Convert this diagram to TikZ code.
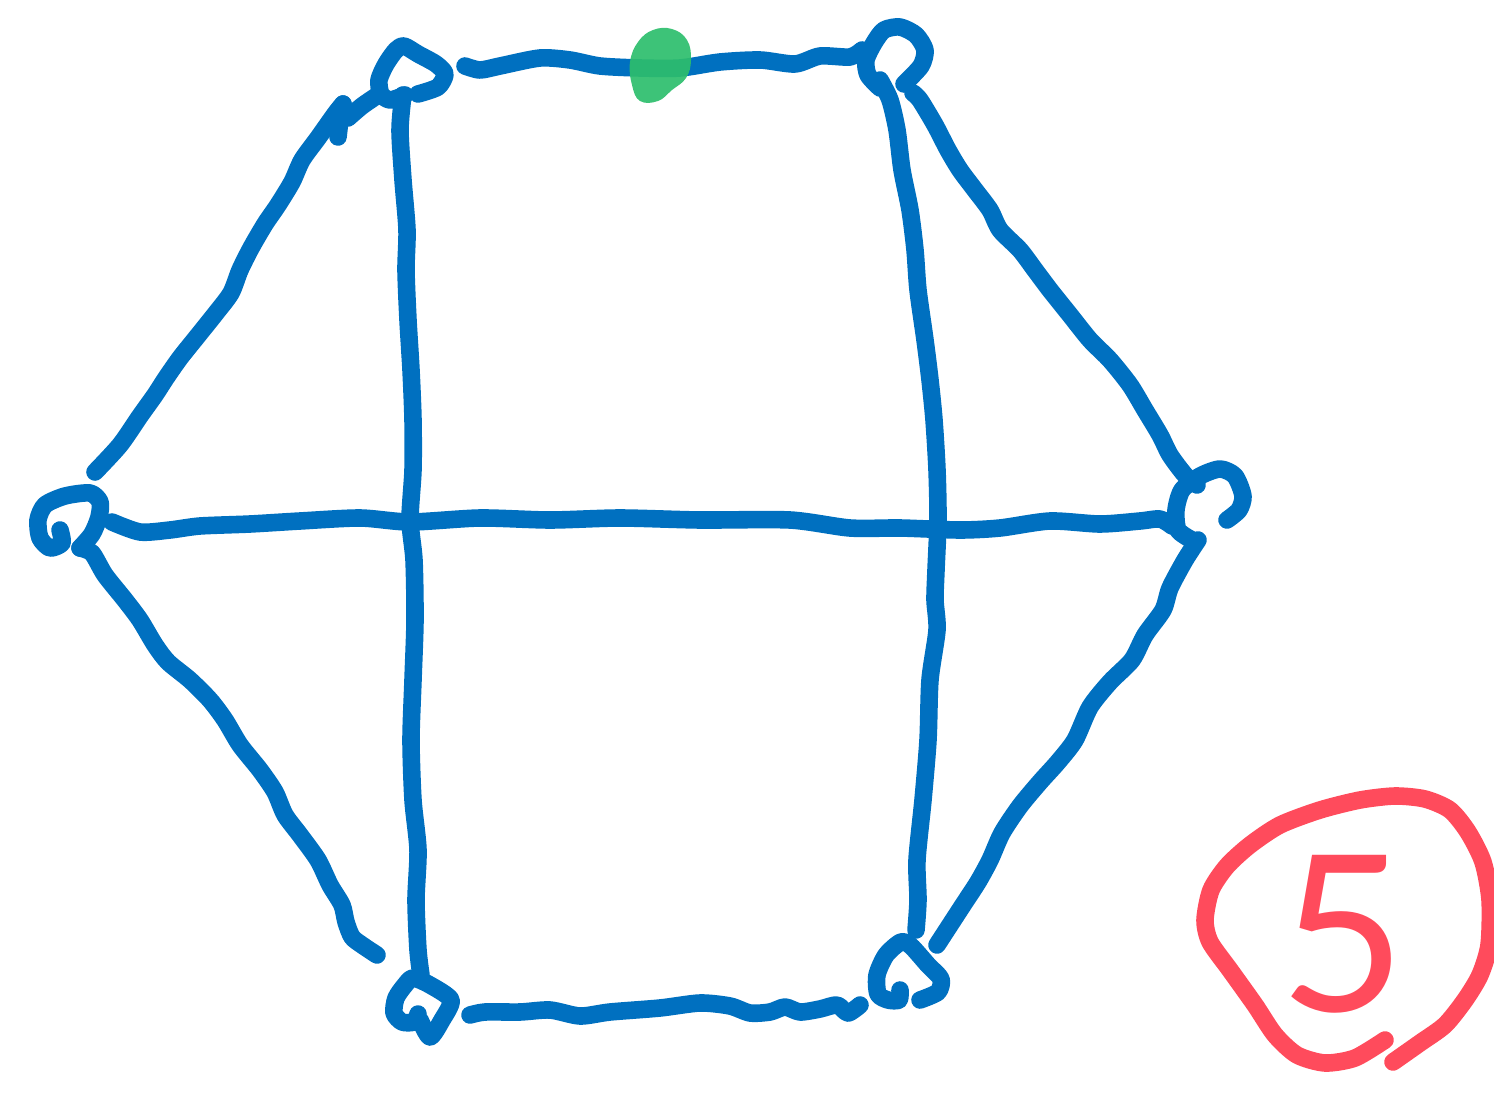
\documentclass[tikz,border=0pt]{standalone}
\usepackage{fontspec}
\setmainfont{Lato}
\definecolor{penblue}{HTML}{0070C0}
\definecolor{pengreen}{HTML}{2DBE6C}
\definecolor{penred}{HTML}{FF4B5C}
\tikzset{
  pen/.style={line width=5pt, line cap=round, line join=round, draw=penblue},
  redpen/.style={line width=5pt, line cap=round, line join=round, draw=penred},
  wob/.style={smooth, tension=0.45}
}
\begin{document}
\begin{tikzpicture}[x=0.01cm,y=-0.01cm]
\useasboundingbox (0,0) rectangle (1494,1094);
% vertex positions
\coordinate (A) at (412,72);
\coordinate (B) at (895,55);
\coordinate (C) at (70,520);
\coordinate (D) at (1210,500);
\coordinate (E) at (422,1005);
\coordinate (F) at (905,975);
% vertex loops
\draw[pen] plot[wob] coordinates {(405,95) (390,100) (381,94) (379,80) (386,64) (396,50) (404,46) (418,54) (436,64) (445,74) (438,87) (418,94)};
\draw[pen] plot[wob] coordinates {(880,88) (868,75) (866,60) (874,43) (884,30) (900,27) (916,35) (925,50) (921,66) (904,84)};
\draw[pen] plot[wob] coordinates {(60,530) (62,543) (50,548) (40,538) (38,520) (45,505) (65,496) (90,493) (100,502) (99,517) (92,534) (80,548)};
\draw[pen] plot[wob] coordinates {(1192,540) (1178,530) (1176,510) (1182,490) (1200,476) (1220,469) (1235,476) (1243,496) (1239,510) (1227,520)};
\draw[pen] plot[wob] coordinates {(418,1014) (414,1022) (402,1022) (394,1013) (396,998) (405,985) (413,978) (430,985) (451,1000) (442,1020) (430,1037) (420,1020)};
\draw[pen] plot[wob] coordinates {(900,990) (899,1000) (888,1000) (878,994) (877,975) (886,955) (901,942) (911,946) (928,965) (941,979) (938,992) (920,1000)};
% edges
\draw[pen] plot[wob] coordinates {(465,66) (480,70) (500,66) (540,58) (570,60) (600,66) (640,68) (680,68) (720,62) (760,60) (795,64) (820,56) (850,57) (862,50)};
\draw[pen] plot[wob] coordinates {(378,95) (362,106) (348,118)};
\draw[pen] (343,104) -- (340,120) -- (338,137);
\draw[pen] plot[wob] coordinates {(343,104) (335,114) (318,138) (302,160) (292,182) (278,205) (265,224) (251,248) (240,270) (231,293) (216,313) (196,338) (180,358) (166,378) (155,395) (140,416) (120,445) (95,472)};
\draw[pen] plot[wob] coordinates {(913,93) (920,100) (935,125) (948,150) (960,170) (975,190) (990,210) (1000,230) (1020,250) (1035,270) (1050,290) (1070,315) (1090,340) (1110,360) (1130,385) (1145,410) (1160,435) (1170,455) (1185,475) (1197,485)};
\draw[pen] plot[wob] coordinates {(403,95) (400,130) (403,180) (407,230) (406,270) (408,320) (411,370) (413,420) (413,470) (410,520) (414,560) (415,620) (413,680) (411,740) (413,800) (418,850) (416,900) (418,950) (421,975)};
\draw[pen] plot[wob] coordinates {(880,80) (890,100) (897,130) (902,170) (910,210) (915,250) (918,290) (925,340) (930,380) (934,420) (937,470) (938,520) (936,570) (935,600) (937,630) (930,680) (928,740) (923,800) (917,860) (918,900) (916,930)};
\draw[pen] plot[wob] coordinates {(112,522) (140,532) (170,530) (200,526) (250,524) (300,521) (360,518) (410,522) (480,518) (550,520) (620,518) (700,520) (790,520) (850,528) (900,528) (960,530) (1000,528) (1050,521) (1100,524) (1140,521) (1160,519) (1172,526)};
\draw[pen] plot[wob] coordinates {(80,548) (92,553) (105,575) (125,600) (140,620) (155,645) (168,662) (190,680) (210,700) (225,720) (240,745) (260,770) (275,792) (285,815) (300,835) (318,860) (330,885) (342,905) (346,922) (352,937) (362,945) (377,955)};
\draw[pen] plot[wob] coordinates {(1198,540) (1185,560) (1170,588) (1163,610) (1145,635) (1132,660) (1110,682) (1090,707) (1075,740) (1058,762) (1040,782) (1020,806) (1002,833) (990,860) (978,882) (963,905) (950,925) (937,945)};
\draw[pen] plot[wob] coordinates {(470,1015) (485,1012) (520,1012) (550,1010) (580,1016) (610,1012) (660,1008) (700,1003) (730,1006) (750,1013) (770,1012) (785,1007) (800,1012) (820,1009) (837,1005) (848,1013) (860,1005)};
% green mark
\fill[pengreen, opacity=0.92] plot[smooth cycle, tension=0.7] coordinates {(630,62) (638,42) (653,30) (672,29) (687,40) (691,60) (686,78) (672,90) (658,101) (640,101) (632,85)};
% red circled number
\draw[redpen] plot[wob] coordinates {(1393,1062) (1420,1043) (1445,1025) (1465,1000) (1480,975) (1489,945) (1490,900) (1483,862) (1468,832) (1450,810) (1425,799) (1395,796) (1360,800) (1320,810) (1280,825) (1250,845) (1227,866) (1211,890) (1205,920) (1210,942) (1230,970) (1255,1005) (1275,1035) (1297,1055) (1325,1063) (1355,1058) (1385,1040)};
\node[text=penred, font=\fontsize{62}{62}\selectfont, inner sep=0pt] (five) at (1343,934) {5};
\end{tikzpicture}
\end{document}
